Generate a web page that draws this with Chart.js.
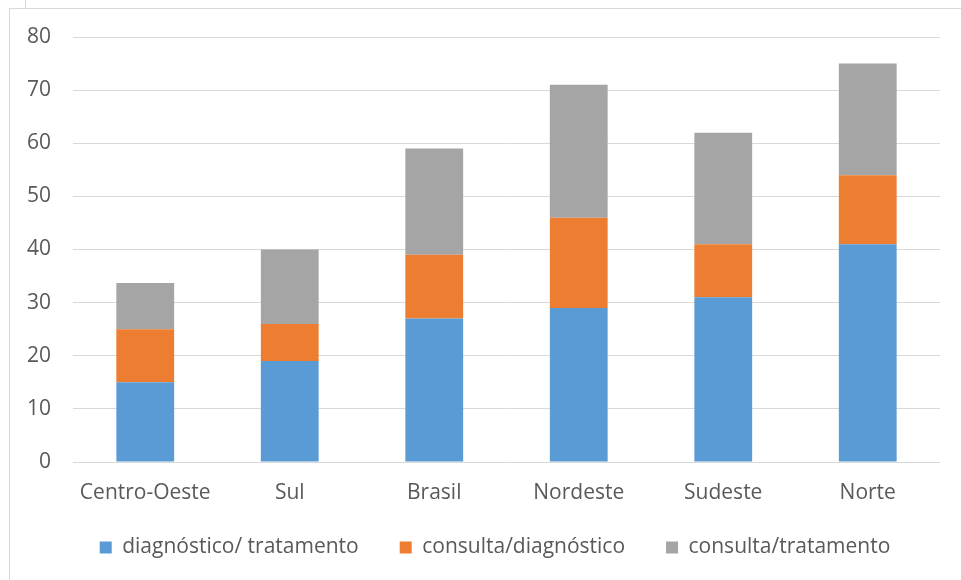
<!DOCTYPE html>
<html>
<head>
<meta charset="utf-8">
<script src="https://cdn.jsdelivr.net/npm/chart.js@4.4.1/dist/chart.umd.min.js"></script>
<style>
  html, body { margin: 0; padding: 0; background: #fff; }
  body { width: 961px; height: 580px; position: relative; overflow: hidden; }
  .tick { position: absolute; left: 25px; top: 0; width: 1px; height: 9px; background: #d9d9d9; }
  .frame { position: absolute; left: 9px; top: 8px; width: 960px; height: 580px;
           border-left: 1px solid #d9d9d9; border-top: 1px solid #d9d9d9; }
  .wrap { position: absolute; left: 10px; top: 9px; width: 951px; height: 571px; }
</style>
</head>
<body>
<div class="tick"></div>
<div class="frame"></div>
<div class="wrap"><canvas id="regionChart"></canvas></div>
<script>
const regions = ['Centro-Oeste', 'Sul', 'Brasil', 'Nordeste', 'Sudeste', 'Norte'];
const diagTrat = [15, 19, 27, 29, 31, 41];
const consDiag = [10, 7, 12, 17, 10, 13];
const consTrat = [8.7, 14, 20, 25, 21, 21];
const yTicks = [0, 10, 20, 30, 40, 50, 60, 70, 80];

const textColor = '#595959';
const fontFamily = '"Open Sans", sans-serif';
const fontSize = 21;

// let tick labels spill outside their axis box (legend spacing needs tight boxes)
const noLabelClip = {
    id: 'noLabelClip',
    beforeDraw(chart) {
        Object.values(chart.scales).forEach(s => { s._computeLabelArea = () => undefined; });
    }
};

function initRegionChart() {
    const ctx = document.getElementById('regionChart');
    if (!ctx) return;

    new Chart(ctx, {
        type: 'bar',
        data: {
            labels: regions,
            datasets: [
                { label: 'diagnóstico/ tratamento', data: diagTrat, backgroundColor: '#5b9bd5' },
                { label: 'consulta/diagnóstico', data: consDiag, backgroundColor: '#ed7d31' },
                { label: 'consulta/tratamento', data: consTrat, backgroundColor: '#a5a5a5' }
            ]
        },
        plugins: [noLabelClip],
        options: {
            responsive: true,
            maintainAspectRatio: false,
            animation: false,
            datasets: { bar: { barPercentage: 0.4, categoryPercentage: 1, borderWidth: 0 } },
            layout: { padding: { top: 28, right: 21, bottom: 12, left: 40 } },
            plugins: {
                tooltip: { enabled: false },
                legend: {
                    position: 'bottom',
                    labels: {
                        boxWidth: 12,
                        boxHeight: 12,
                        padding: 41,
                        color: textColor,
                        font: { family: fontFamily, size: fontSize }
                    }
                }
            },
            scales: {
                x: {
                    stacked: true,
                    grid: { display: false },
                    border: { display: false },
                    afterFit: (axis) => { axis.height = 34; },
                    ticks: { color: textColor, font: { family: fontFamily, size: fontSize }, padding: 10 }
                },
                y: {
                    stacked: true,
                    min: 0,
                    max: 80,
                    afterBuildTicks: (axis) => { axis.ticks = yTicks.map(v => ({ value: v })); },
                    afterFit: (axis) => {
                        axis.width = 23;
                        axis.paddingTop = 0;
                        axis.paddingBottom = 0;
                    },
                    grid: { color: '#d9d9d9', lineWidth: 1, drawTicks: false },
                    border: { display: false },
                    ticks: { color: textColor, font: { family: fontFamily, size: fontSize }, padding: 22 }
                }
            }
        }
    });
}

if (document.readyState === 'loading') {
    document.addEventListener('DOMContentLoaded', initRegionChart);
} else {
    initRegionChart();
}
</script>
</body>
</html>
